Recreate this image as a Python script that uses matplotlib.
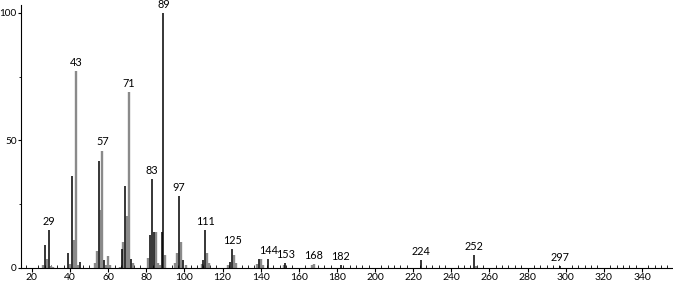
import matplotlib
matplotlib.use("Agg")
import matplotlib.pyplot as plt
from matplotlib.ticker import MultipleLocator

plt.rcParams['font.family'] = ['Lato', 'DejaVu Sans']

# black sticks (m/z, relative intensity)
black_mz = [27, 29, 39, 41, 45, 55, 58, 67, 69, 72, 82, 83, 84, 88, 89, 97, 99,
            110, 111, 124, 125, 139, 144, 153, 182, 224, 252, 297]
black_int = [9, 15, 6, 36, 2.5, 42, 3, 7.5, 32, 3.5, 13, 35, 14, 14, 100, 28, 3,
             3, 15, 2.5, 7.5, 3.5, 3.5, 2, 1, 3, 5, 0.8]

# grey sticks
grey_mz = [26, 28, 30, 31, 40, 42, 43, 44, 53, 54, 56, 57, 59, 60, 61, 66, 68, 70,
           71, 73, 81, 85, 86, 87, 90, 95, 96, 98, 101, 109, 112, 113, 123, 126,
           127, 138, 140, 141, 152, 167, 168, 253]
grey_int = [1, 3.5, 0.6, 0.5, 1.5, 11, 77, 1, 2, 6.5, 22.5, 46, 1, 4.5, 1, 0.5, 10,
            20.5, 69, 2, 4, 14, 2, 1, 5, 2, 6, 10, 1, 1.5, 6, 2, 1, 5,
            2, 1.5, 3.5, 1, 1, 1, 1.5, 0.6]

labels = [29, 43, 57, 71, 83, 89, 97, 111, 125, 144, 153, 168, 182, 224, 252, 297]

fig = plt.figure(figsize=(6.73, 2.85), dpi=100)
ax = fig.add_axes([0.031, 0.06, 0.969, 0.922])

ax.vlines(grey_mz, 0, grey_int, color='#8a8a8a', linewidth=1.7)
ax.vlines(black_mz, 0, black_int, color='black', linewidth=1.1)

heights = dict(zip(grey_mz, grey_int))
heights.update({m: max(h, heights.get(m, 0)) for m, h in zip(black_mz, black_int)})
for m in labels:
    ax.text(m, heights[m] + 1.2, str(m), ha='center', va='bottom', fontsize=7.8)

ax.set_xlim(14.2, 356.3)
ax.set_ylim(0, 103)
ax.spines['top'].set_visible(False)
ax.spines['right'].set_visible(False)
ax.xaxis.set_major_locator(MultipleLocator(20))
ax.xaxis.set_minor_locator(MultipleLocator(20 / 6))
ax.yaxis.set_major_locator(MultipleLocator(50))
ax.yaxis.set_minor_locator(MultipleLocator(25))
ax.tick_params(axis='x', which='major', direction='out', length=3, labelsize=7.5, pad=1)
ax.tick_params(axis='x', which='minor', direction='in', length=2)
ax.tick_params(axis='y', which='major', direction='out', length=2.5, labelsize=7.2, pad=0.5)
ax.tick_params(axis='y', which='minor', direction='out', length=1.5)

fig.savefig("out.png", dpi=100)
